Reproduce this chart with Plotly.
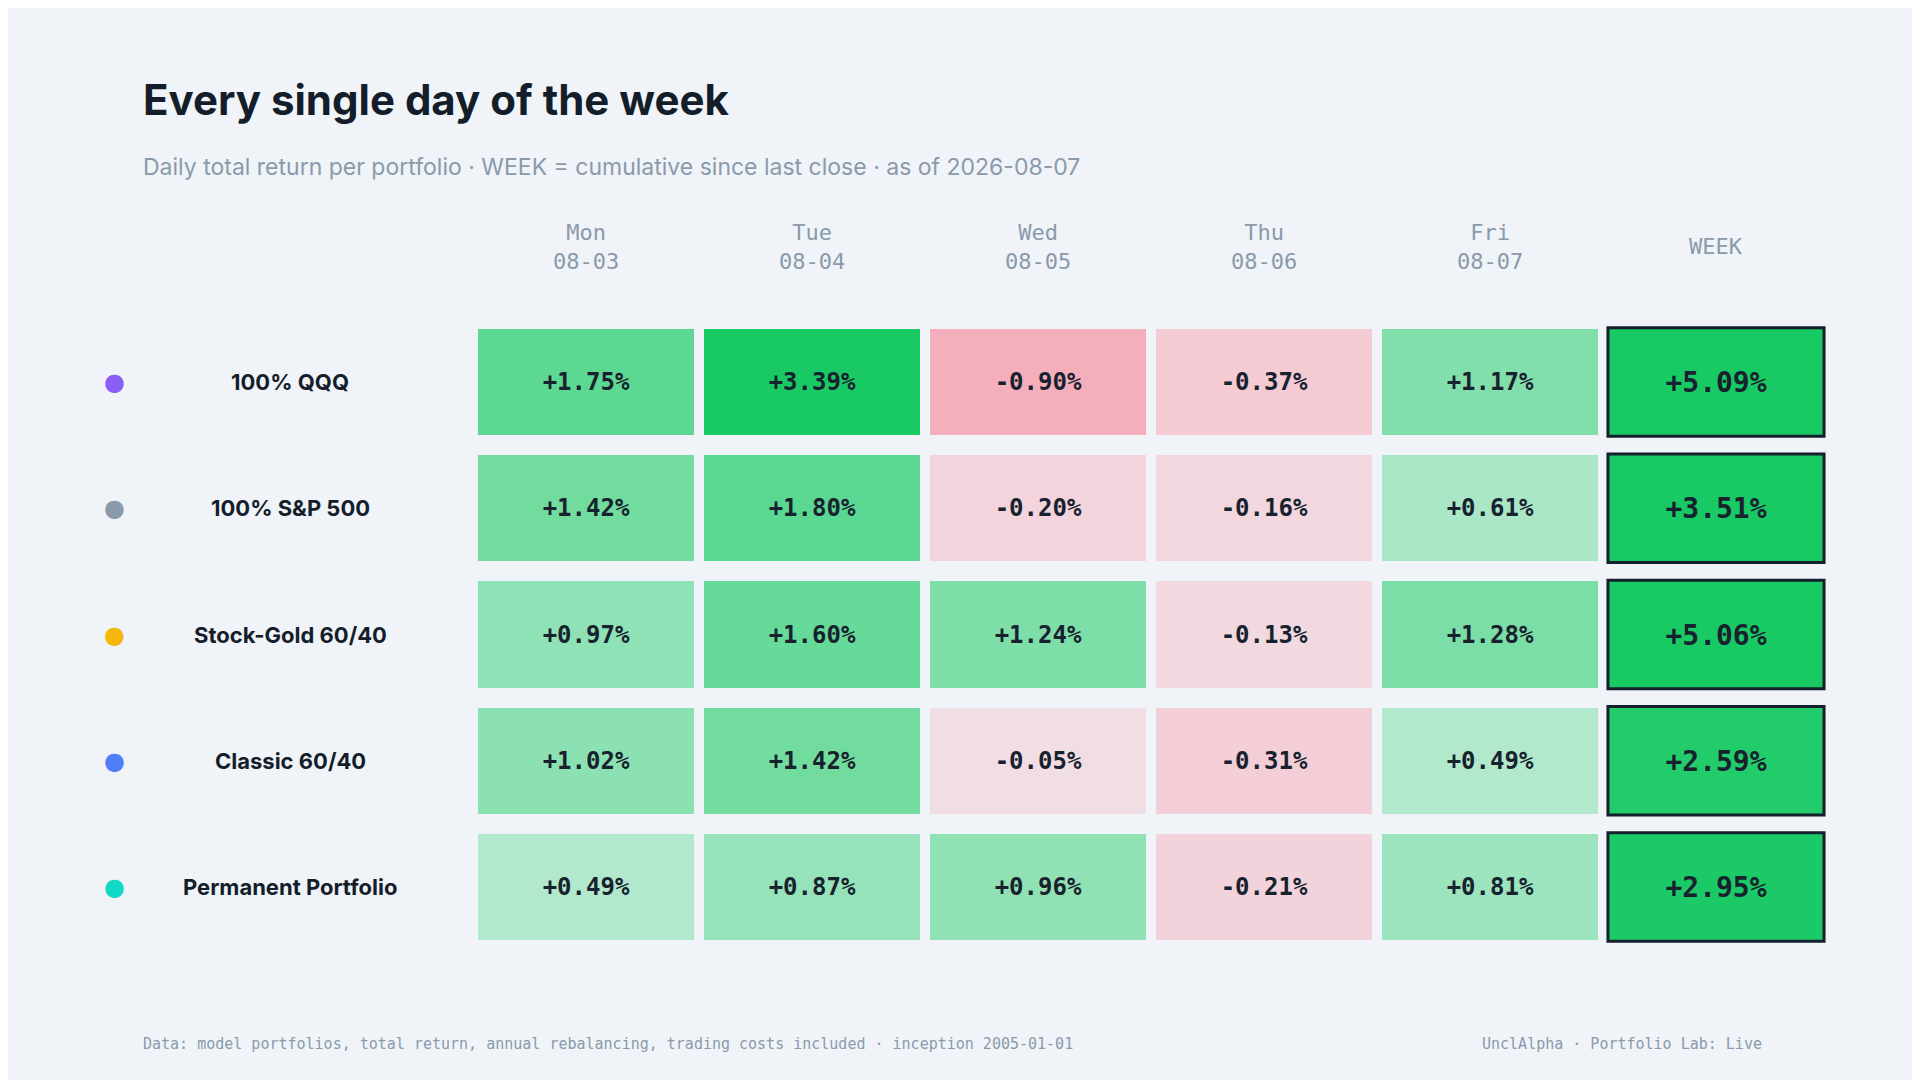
import plotly.graph_objects as go

portfolios = ["100% QQQ", "100% S&P 500", "Stock-Gold 60/40", "Classic 60/40", "Permanent Portfolio"]
dot_colors = ["#8B5CF6", "#8A9AAB", "#F5B70A", "#4F7CF7", "#12D9C5"]
days = ["Mon<br>08-03", "Tue<br>08-04", "Wed<br>08-05", "Thu<br>08-06", "Fri<br>08-07"]
daily = [
    [1.75, 3.39, -0.90, -0.37, 1.17],
    [1.42, 1.80, -0.20, -0.16, 0.61],
    [0.97, 1.60, 1.24, -0.13, 1.28],
    [1.02, 1.42, -0.05, -0.31, 0.49],
    [0.49, 0.87, 0.96, -0.21, 0.81],
]
week = [5.09, 3.51, 5.06, 2.59, 2.95]

BG = "#F0F3F8"
MONO = "DejaVu Sans Mono"
SANS = "Inter"

zmin, zmax = -0.9, 3.39
pts = [(-0.9, "#F5AEBB"), (-0.37, "#F4CAD3"), (-0.2, "#F3D4DC"), (-0.05, "#F1DEE4"),
       (0.0, "#EBE4E8"), (0.49, "#B2E8CC"), (0.97, "#8FE2B5"), (1.42, "#72DC9F"),
       (1.75, "#5CD893"), (3.39, "#18C964")]
cs = [[(v - zmin) / (zmax - zmin), c] for v, c in pts]

text_d = [[f"<b>{v:+.2f}%</b>" for v in r] for r in daily]
fig = go.Figure()
fig.add_trace(go.Heatmap(
    z=daily, x=[0, 1, 2, 3, 4], y=list(range(len(portfolios))),
    colorscale=cs, zmin=zmin, zmax=zmax, showscale=False, xgap=10, ygap=20,
    text=text_d, texttemplate="%{text}",
    textfont=dict(family=MONO, size=24, color="#18222F"), hoverinfo="skip"))
fig.add_trace(go.Heatmap(
    z=[[w] for w in week], x=[5], y=list(range(len(portfolios))),
    colorscale=[[0, "#22CC6A"], [0.2, "#18C964"], [1, "#18C964"]], zmin=2.59, zmax=5.09,
    showscale=False, xgap=10, ygap=20,
    text=[[f"<b>{w:+.2f}%</b>"] for w in week], texttemplate="%{text}",
    textfont=dict(family=MONO, size=28, color="#18222F"), hoverinfo="skip"))

for i in range(len(portfolios)):
    fig.add_shape(type="rect", xref="x", yref="y", x0=5 - 0.478, x1=5 + 0.478,
                  y0=i - 0.43, y1=i + 0.43, line=dict(color="#14202C", width=3))

ann = []
for i, p in enumerate(portfolios):
    ann.append(dict(x=0.147, y=i, xref="paper", yref="y", text=f"<b>{p}</b>", showarrow=False,
                    xanchor="center", yanchor="middle",
                    font=dict(family=SANS, size=22, color="#141E2A")))
    ann.append(dict(x=0.0555, y=i, xref="paper", yref="y", text="●", showarrow=False,
                    xanchor="center", yanchor="middle",
                    font=dict(family="DejaVu Sans", size=24, color=dot_colors[i])))
for j, d in enumerate(days + ["WEEK"]):
    ann.append(dict(x=j, y=0.779, xref="x", yref="paper", text=d if j < 5 else "<br>WEEK",
                    showarrow=False, yanchor="middle", xanchor="center",
                    font=dict(family=MONO, size=22, color="#8A9AAB")))
ann += [
    dict(x=0.0695, y=1 - 92 / 1080, xref="paper", yref="paper", xanchor="left", yanchor="middle",
         text="<b>Every single day of the week</b>",
         showarrow=False, font=dict(family=SANS, size=42, color="#141E2A")),
    dict(x=0.0695, y=1 - 159 / 1080, xref="paper", yref="paper", xanchor="left", yanchor="middle",
         text="Daily total return per portfolio · WEEK = cumulative since last close · as of 2026-08-07",
         showarrow=False, font=dict(family=SANS, size=23, color="#8A9AAB")),
    dict(x=0.0695, y=1 - 1036 / 1080, xref="paper", yref="paper", xanchor="left", yanchor="middle",
         text="Data: model portfolios, total return, annual rebalancing, trading costs included · inception 2005-01-01",
         showarrow=False, font=dict(family=MONO, size=15, color="#8A9AAB")),
    dict(x=1756 / 1920, y=1 - 1036 / 1080, xref="paper", yref="paper", xanchor="right", yanchor="middle",
         text="UnclAlpha · Portfolio Lab: Live", showarrow=False, font=dict(family=MONO, size=15, color="#8A9AAB")),
]

fig.update_layout(
    width=1920, height=1080, paper_bgcolor=BG, plot_bgcolor=BG,
    margin=dict(l=0, r=0, t=0, b=0), annotations=ann,
    xaxis=dict(domain=[465 / 1920, 1821 / 1920], range=[-0.5, 5.5], visible=False),
    yaxis=dict(domain=[1 - 942 / 1080, 1 - 311 / 1080], range=[4.5, -0.5], visible=False),
)
fig.write_html("out.html")
